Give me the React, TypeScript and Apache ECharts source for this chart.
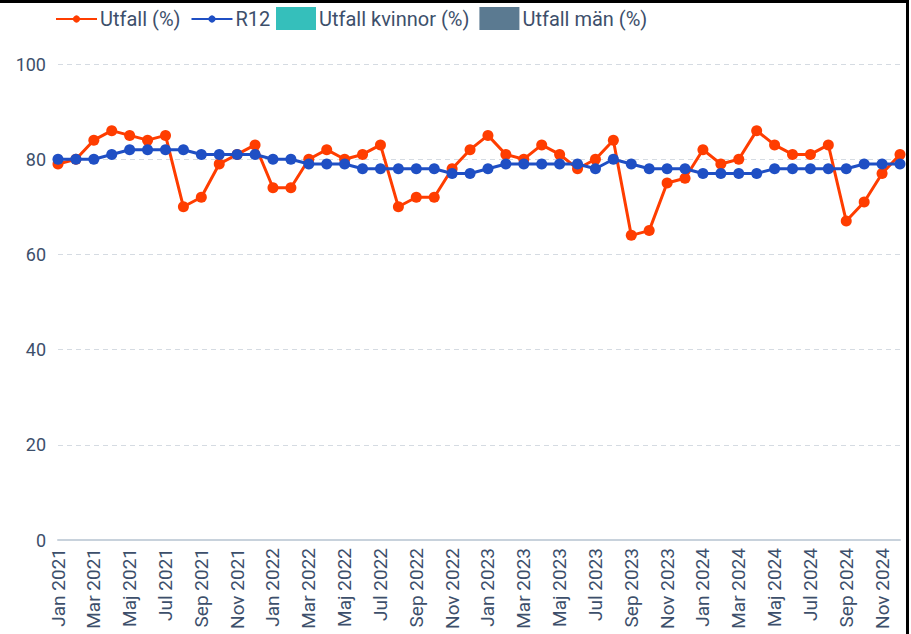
import React, { useEffect, useRef } from "react";
import * as echarts from "echarts";

const monthNames = ["Jan", "Feb", "Mar", "Apr", "Maj", "Jun", "Jul", "Aug", "Sep", "Okt", "Nov", "Dec"];
const years = [2021, 2022, 2023, 2024];
const categories: string[] = [];
years.forEach((y) => monthNames.forEach((m) => categories.push(`${m} ${y}`)));

const utfall = [
  79, 80, 84, 86, 85, 84, 85, 70, 72, 79, 81, 83,
  74, 74, 80, 82, 80, 81, 83, 70, 72, 72, 78, 82,
  85, 81, 80, 83, 81, 78, 80, 84, 64, 65, 75, 76,
  82, 79, 80, 86, 83, 81, 81, 83, 67, 71, 77, 81,
];
const r12 = [
  80, 80, 80, 81, 82, 82, 82, 82, 81, 81, 81, 81,
  80, 80, 79, 79, 79, 78, 78, 78, 78, 78, 77, 77,
  78, 79, 79, 79, 79, 79, 78, 80, 79, 78, 78, 78,
  77, 77, 77, 77, 78, 78, 78, 78, 78, 79, 79, 79,
];
const utfallKvinnor: (number | null)[] = [];
const utfallMan: (number | null)[] = [];
const yTicks = { min: 0, max: 100, interval: 20 };

export default function App() {
  const ref = useRef<HTMLDivElement>(null);
  useEffect(() => {
    if (!ref.current) return;
    const chart = echarts.init(ref.current, null, { renderer: "svg" });
    const textColor = "#3d4f6b";
    chart.setOption({
      animation: false,
      backgroundColor: "#ffffff",
      textStyle: { fontFamily: "Roboto" },
      legend: [
        {
          left: 55,
          top: 9,
          padding: 0,
          itemWidth: 41,
          itemHeight: 9,
          itemGap: 10,
          data: ["Utfall (%)", "R12"],
          textStyle: { fontSize: 20, color: textColor, fontFamily: "Roboto", padding: [0, 0, 0, -2] },
        },
        {
          left: 276,
          top: 7,
          padding: 0,
          itemWidth: 40,
          itemHeight: 23,
          itemGap: 10,
          icon: "rect",
          data: ["Utfall kvinnor (%)", "Utfall män (%)"],
          textStyle: { fontSize: 20, color: textColor, fontFamily: "Roboto", padding: [0, 0, 0, -2] },
        },
      ],
      grid: { left: 58, right: 11, top: 64, bottom: 94, containLabel: false },
      xAxis: {
        type: "category",
        data: categories,
        boundaryGap: false,
        axisLine: { show: true, lineStyle: { color: "#c8d2dc", width: 2 } },
        axisTick: { show: false },
        axisLabel: {
          interval: 1,
          rotate: 90,
          margin: 8,
          fontSize: 19,
          color: textColor,
          fontFamily: "Roboto",
        },
        splitLine: { show: false },
      },
      yAxis: {
        type: "value",
        min: yTicks.min,
        max: yTicks.max,
        interval: yTicks.interval,
        axisLine: { show: false },
        axisTick: { show: false },
        axisLabel: { fontSize: 18, color: textColor, margin: 12, fontFamily: "Roboto" },
        splitLine: { show: true, lineStyle: { color: "#d5dbe2", type: [5, 4], width: 1 } },
      },
      series: [
        {
          name: "Utfall (%)",
          type: "line",
          data: utfall,
          symbol: "circle",
          symbolSize: 11,
          color: "#ff3d00",
          lineStyle: { width: 3, color: "#ff3d00" },
          itemStyle: { color: "#ff3d00" },
          z: 2,
        },
        {
          name: "R12",
          type: "line",
          data: r12,
          symbol: "circle",
          symbolSize: 11,
          color: "#1f4fc4",
          lineStyle: { width: 3, color: "#1f4fc4" },
          itemStyle: { color: "#1f4fc4" },
          z: 3,
        },
        {
          name: "Utfall kvinnor (%)",
          type: "bar",
          data: utfallKvinnor,
          itemStyle: { color: "#35bfbb" },
        },
        {
          name: "Utfall män (%)",
          type: "bar",
          data: utfallMan,
          itemStyle: { color: "#5b7a91" },
        },
      ],
      graphic: [
        { type: "rect", left: 0, top: 0, shape: { width: 909, height: 3 }, style: { fill: "#000" }, z: 100 },
        { type: "rect", left: 906, top: 0, shape: { width: 3, height: 634 }, style: { fill: "#000" }, z: 100 },
      ],
    });
    return () => chart.dispose();
  }, []);
  return (
    <div
      style={{ position: "fixed", left: 0, top: 0, width: 911, height: 634, background: "#fff" }}
    >
      <div ref={ref} style={{ width: 911, height: 634 }} />
    </div>
  );
}
